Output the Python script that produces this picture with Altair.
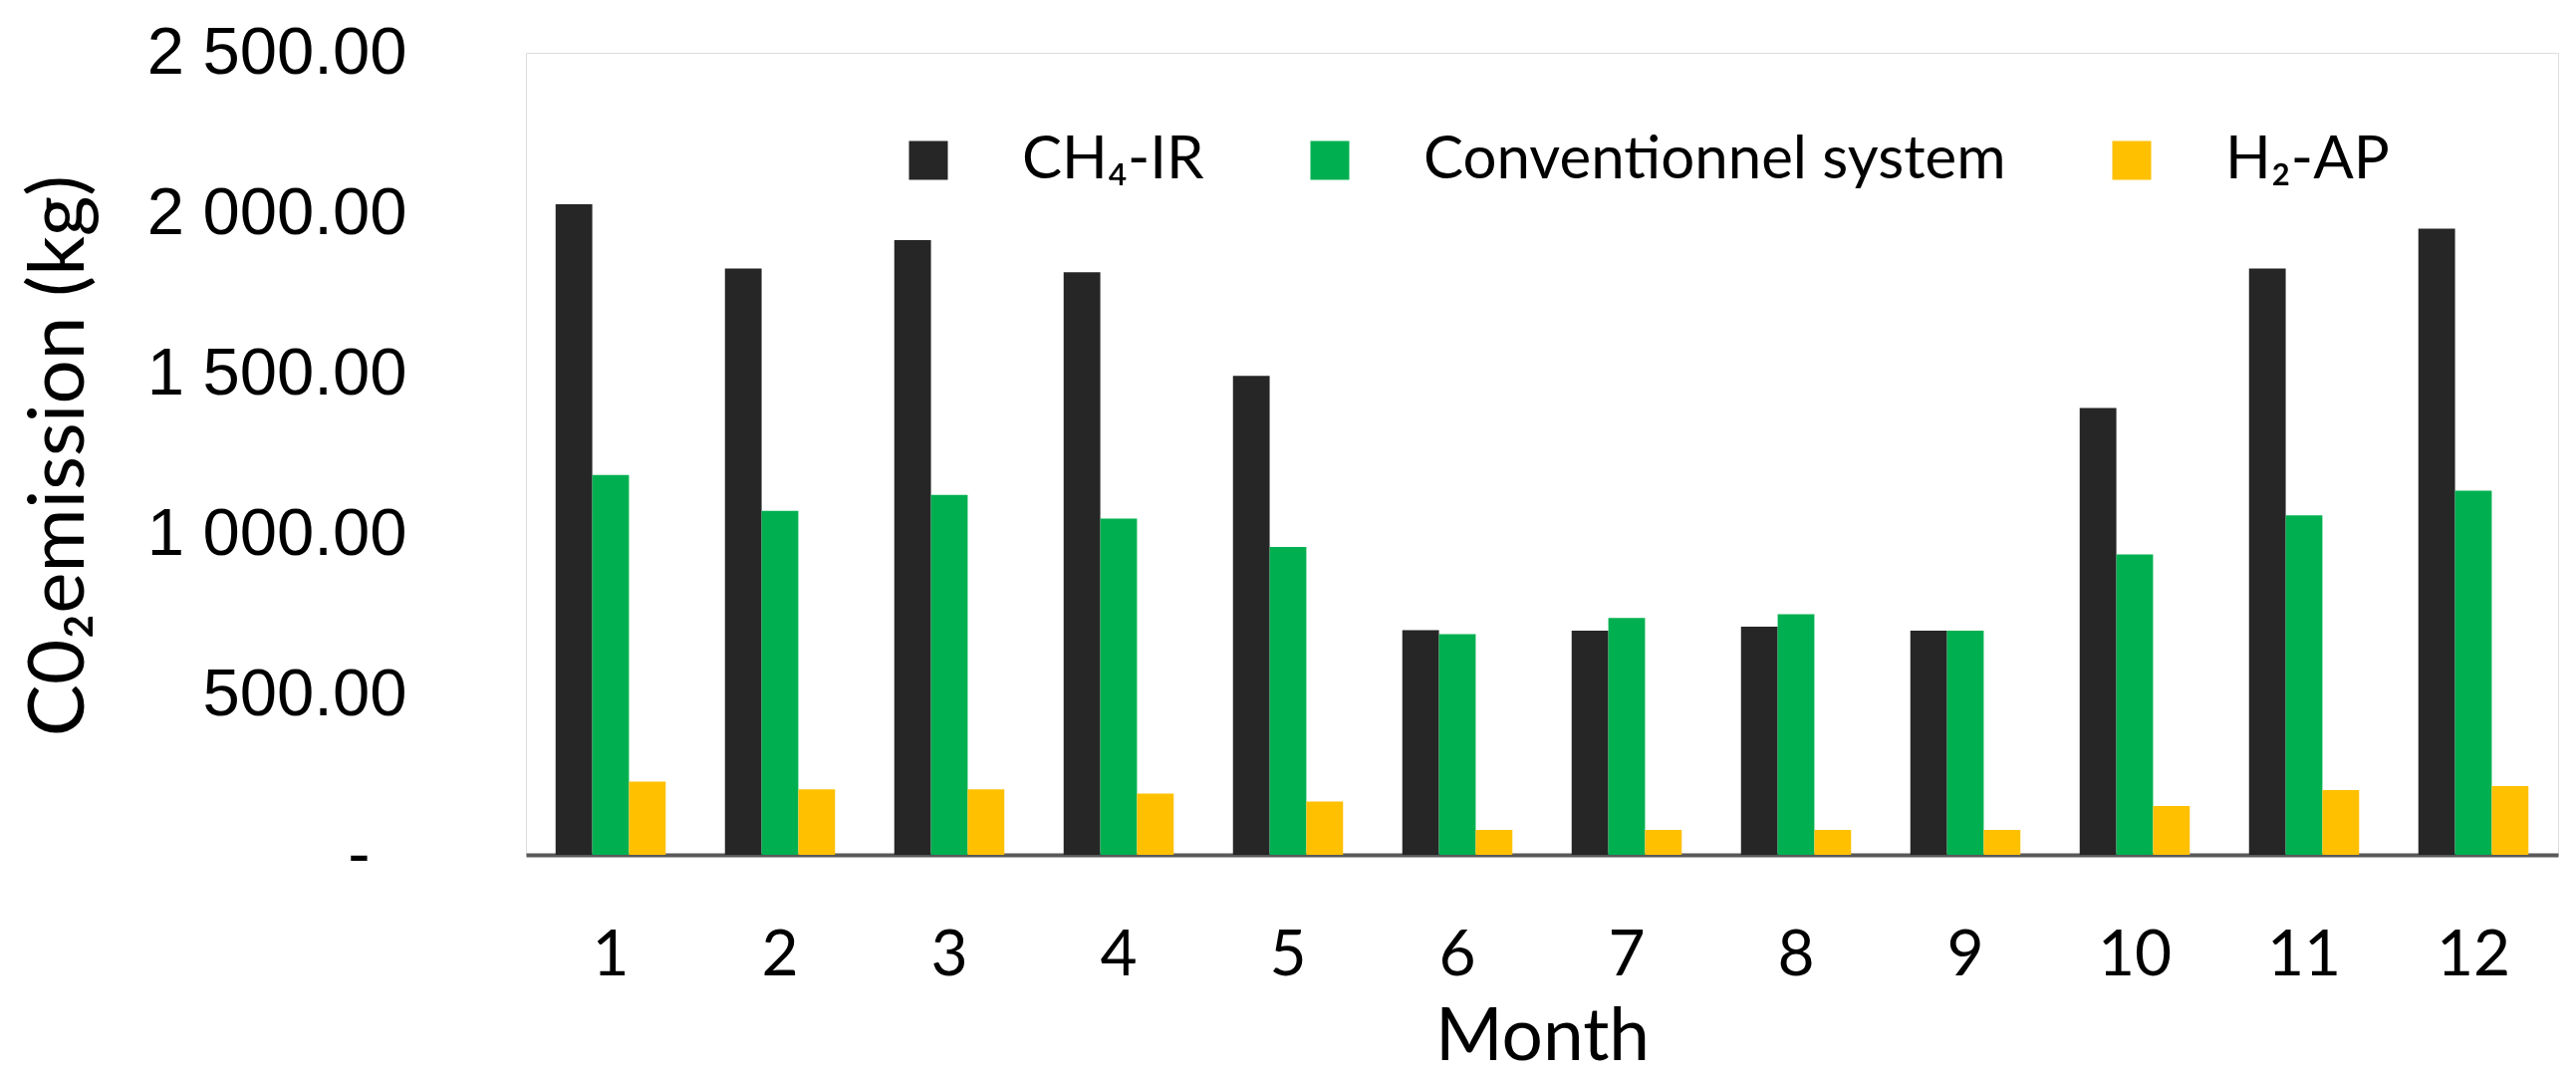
import altair as alt
import pandas as pd

months = [str(m) for m in range(1, 13)]
series = ["CH\u2084-IR", "Conventionnel system", "H\u2082-AP"]
colors = ["#262626", "#00B050", "#FFC000"]
ch4_ir = [2028, 1828, 1916, 1816, 1493, 700, 699, 711, 699, 1393, 1828, 1952]
conventional = [1184, 1072, 1122, 1048, 960, 688, 738, 750, 699, 936, 1058, 1135]
h2_ap = [228, 204, 204, 191, 166, 78, 78, 78, 78, 152, 202, 214]
y_ticks = [0, 500, 1000, 1500, 2000, 2500]

rows = []
for name, vals in zip(series, [ch4_ir, conventional, h2_ap]):
    for m, v in zip(months, vals):
        rows.append({"Month": m, "Series": name, "Value": v})
df = pd.DataFrame(rows)

CAL = "Lato"
TAH = "Liberation Sans"

chart = alt.Chart(df).mark_bar().encode(
    x=alt.X("Month:N", sort=months,
            scale=alt.Scale(paddingInner=0.35, paddingOuter=0.175),
            axis=alt.Axis(title="Month", labelAngle=0, ticks=False, tickSize=0,
                          domain=True, domainColor="#595959", domainWidth=4,
                          labelFont=CAL, labelFontSize=64, labelColor="black",
                          labelPadding=120, labelBaseline="alphabetic",
                          titleFont=CAL, titleFontSize=73, titleFontWeight="normal",
                          titleColor="black", titleX=1020, titleY=205,
                          titleBaseline="alphabetic", titleAlign="center")),
    xOffset=alt.XOffset("Series:N", sort=series,
                        scale=alt.Scale(paddingInner=0, paddingOuter=0)),
    y=alt.Y("Value:Q",
            scale=alt.Scale(domain=[0, 2500], nice=False),
            axis=alt.Axis(title="C0\u2082emission (kg)", values=y_ticks, grid=False,
                          ticks=False, tickSize=0, domain=False,
                          labelFont=TAH, labelFontSize=67, labelColor="black",
                          labelPadding={"condition": {"test": "datum.value == 0", "value": 157}, "value": 120},
                          labelLimit=1000,
                          labelExpr="datum.value == 0 ? '-' : replace(format(datum.value, ',.2f'), ',', ' ')",
                          titleFont=CAL, titleFontSize=78, titleFontWeight="normal",
                          titleColor="black", titleX=-468, titleY=404,
                          titleAngle=-90, titleBaseline="middle", titleAlign="center")),
    color=alt.Color("Series:N",
                    scale=alt.Scale(domain=series, range=colors),
                    legend=alt.Legend(orient="none", legendX=374, legendY=78,
                                      direction="horizontal", title=None,
                                      symbolType="square", symbolSize=1521,
                                      symbolStrokeWidth=0, symbolOpacity=1,
                                      labelFont=CAL, labelFontSize=60,
                                      labelColor="black", labelOffset=64,
                                      columnPadding=96, padding=0,
                                      labelLimit=1000)),
).properties(
    width=2040, height=805,
    autosize=alt.AutoSizeParams(type="none"),
    padding={"left": 520, "top": 45, "right": 10, "bottom": 222},
).configure_view(
    stroke="#262626", strokeWidth=2.5
).configure(background="white")

chart.save("out.html", embed_options={"renderer": "svg", "actions": False})
